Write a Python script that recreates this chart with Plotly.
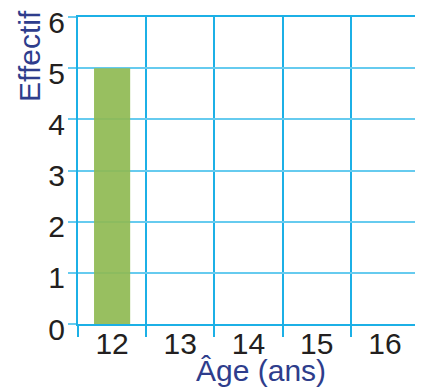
import plotly.graph_objects as go

ages = ["12", "13", "14", "15", "16"]
effectifs = [5, 0, 0, 0, 0]
y_ticks = [0, 1, 2, 3, 4, 5, 6]

dark_grid = "#1cb0e6"
light_grid = "#66cbef"
font_family = "Liberation Sans, Arial, sans-serif"

fig = go.Figure(
    go.Bar(
        x=ages,
        y=effectifs,
        width=0.53,
        marker=dict(color="#8fba52", line=dict(width=0)),
        opacity=0.92,
    )
)

fig.update_layout(
    width=415,
    height=382,
    margin=dict(l=70, r=4, t=9, b=66, autoexpand=False),
    paper_bgcolor="white",
    plot_bgcolor="white",
    showlegend=False,
    font=dict(family=font_family, size=30, color="#231f20"),
    xaxis=dict(
        type="category",
        range=[-0.5, 4.5],
        tickson="boundaries",
        showgrid=True,
        gridcolor=dark_grid,
        gridwidth=2,
        showline=True,
        linecolor=dark_grid,
        linewidth=2,
        mirror=True,
        ticks="outside",
        ticklen=11,
        tickwidth=2,
        tickcolor=dark_grid,
        tickfont=dict(size=30, color="#231f20"),
        ticklabelstandoff=-8,
        ticklabeloverflow="allow",
        zeroline=False,
        automargin=False,
    ),
    yaxis=dict(
        range=[0, 6],
        tickvals=y_ticks,
        showgrid=True,
        gridcolor=light_grid,
        gridwidth=2,
        showline=True,
        linecolor=dark_grid,
        linewidth=2,
        mirror=True,
        ticks="outside",
        ticklen=8,
        tickwidth=2,
        tickcolor=light_grid,
        tickfont=dict(size=30, color="#231f20"),
        ticklabelshift=5,
        ticklabelstandoff=-3,
        ticklabeloverflow="allow",
        zeroline=False,
        automargin=False,
    ),
    annotations=[
        dict(
            text="Effectif",
            xref="paper", yref="paper",
            x=-0.141, y=0.873,
            xanchor="center", yanchor="middle",
            textangle=-90,
            showarrow=False,
            font=dict(family=font_family, size=30, color="#2e3d8c"),
        ),
        dict(
            text="Âge (ans)",
            xref="paper", yref="paper",
            x=0.537, y=-0.15,
            xanchor="center", yanchor="middle",
            showarrow=False,
            font=dict(family=font_family, size=30, color="#2e3d8c"),
        ),
    ],
)

fig.write_html("out.html")
